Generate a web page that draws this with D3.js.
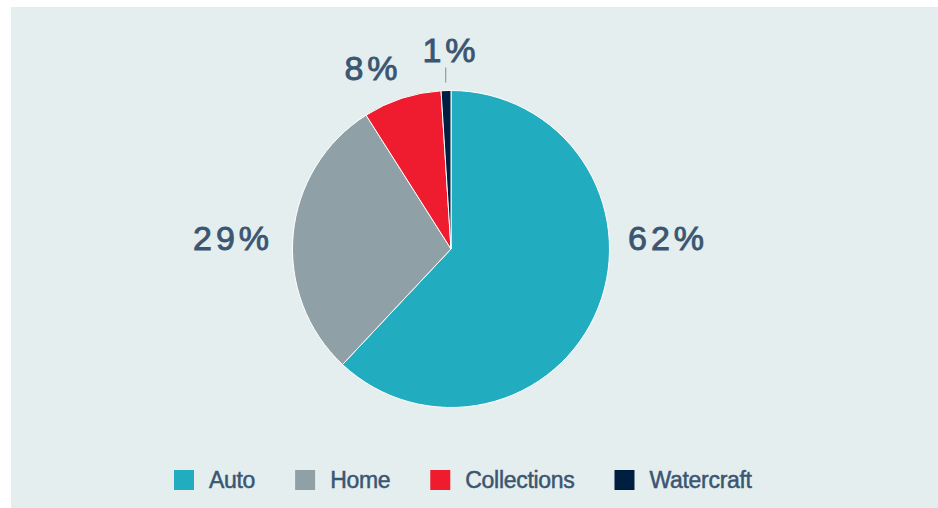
<!DOCTYPE html>
<html>
<head>
<meta charset="utf-8">
<script src="https://cdn.jsdelivr.net/npm/d3@7"></script>
<style>
  html, body { margin: 0; padding: 0; background: #ffffff; }
  svg { display: block; }
</style>
</head>
<body>
<svg id="chart" width="938" height="508"></svg>
<script>
// Share of claims by line of business
const categories = ["Auto", "Home", "Collections", "Watercraft"];
const shares = [62, 29, 8, 1];
const colors = ["#22acc0", "#8fa1a6", "#ee1c2e", "#001e40"];

const svg = d3.select("#chart");
const W = 938, H = 508;

// panel background
svg.append("rect")
  .attr("x", 11).attr("y", 7)
  .attr("width", W - 11).attr("height", H - 7)
  .attr("fill", "#e4eeee");

const cx = 451, cy = 249, r = 158.5;
const g = svg.append("g").attr("transform", `translate(${cx},${cy})`);

const data = categories.map((c, i) => ({ name: c, value: shares[i], color: colors[i] }));
const pie = d3.pie().value(d => d.value).sort(null);
const arcs = pie(data);
const arc = d3.arc().innerRadius(0).outerRadius(r);

g.selectAll("path.slice")
  .data(arcs)
  .join("path")
  .attr("class", "slice")
  .attr("d", arc)
  .attr("fill", d => d.data.color)
  .attr("stroke", "#ffffff")
  .attr("stroke-width", 1);

// percentage labels placed outside each slice
const labelColor = "#3b5672";
const labelFont = "Liberation Sans, Arial, Helvetica, sans-serif";
const labelAt = {
  "Auto":        [217, -11],
  "Home":        [-218, -11],
  "Collections": [-78, -181],
  "Watercraft":  [0, -199]
};

arcs.forEach(d => {
  const mid = (d.startAngle + d.endAngle) / 2;
  const [x, y] = labelAt[d.data.name];
  g.append("text")
    .attr("x", x).attr("y", y)
    .attr("text-anchor", "middle")
    .attr("dominant-baseline", "central")
    .attr("fill", labelColor)
    .attr("stroke", labelColor)
    .attr("stroke-width", 0.9)
    .attr("font-family", labelFont)
    .attr("font-size", 34)
    .attr("letter-spacing", 4)
    .text(d.data.value + "%");
  if (d.data.name === "Watercraft") {
    g.append("line")
      .attr("x1", Math.sin(mid) * (r + 9)).attr("x2", Math.sin(mid) * (r + 9))
      .attr("y1", -(r + 8)).attr("y2", -(r + 23))
      .attr("stroke", "#7d8c92")
      .attr("stroke-width", 1);
  }
});

// legend
const legend = svg.append("g").attr("transform", "translate(174,470)");
let lx = 0;
data.forEach(d => {
  const item = legend.append("g").attr("transform", `translate(${lx},0)`);
  item.append("rect")
    .attr("width", 20).attr("height", 20)
    .attr("fill", d.color);
  const t = item.append("text")
    .attr("x", 35).attr("y", 10)
    .attr("dominant-baseline", "central")
    .attr("fill", labelColor)
    .attr("stroke", labelColor)
    .attr("stroke-width", 0.5)
    .attr("font-family", labelFont)
    .attr("font-size", 23)
    .attr("letter-spacing", -0.3)
    .text(d.name);
  lx += 35 + t.node().getComputedTextLength() + 40;
});
</script>
</body>
</html>
